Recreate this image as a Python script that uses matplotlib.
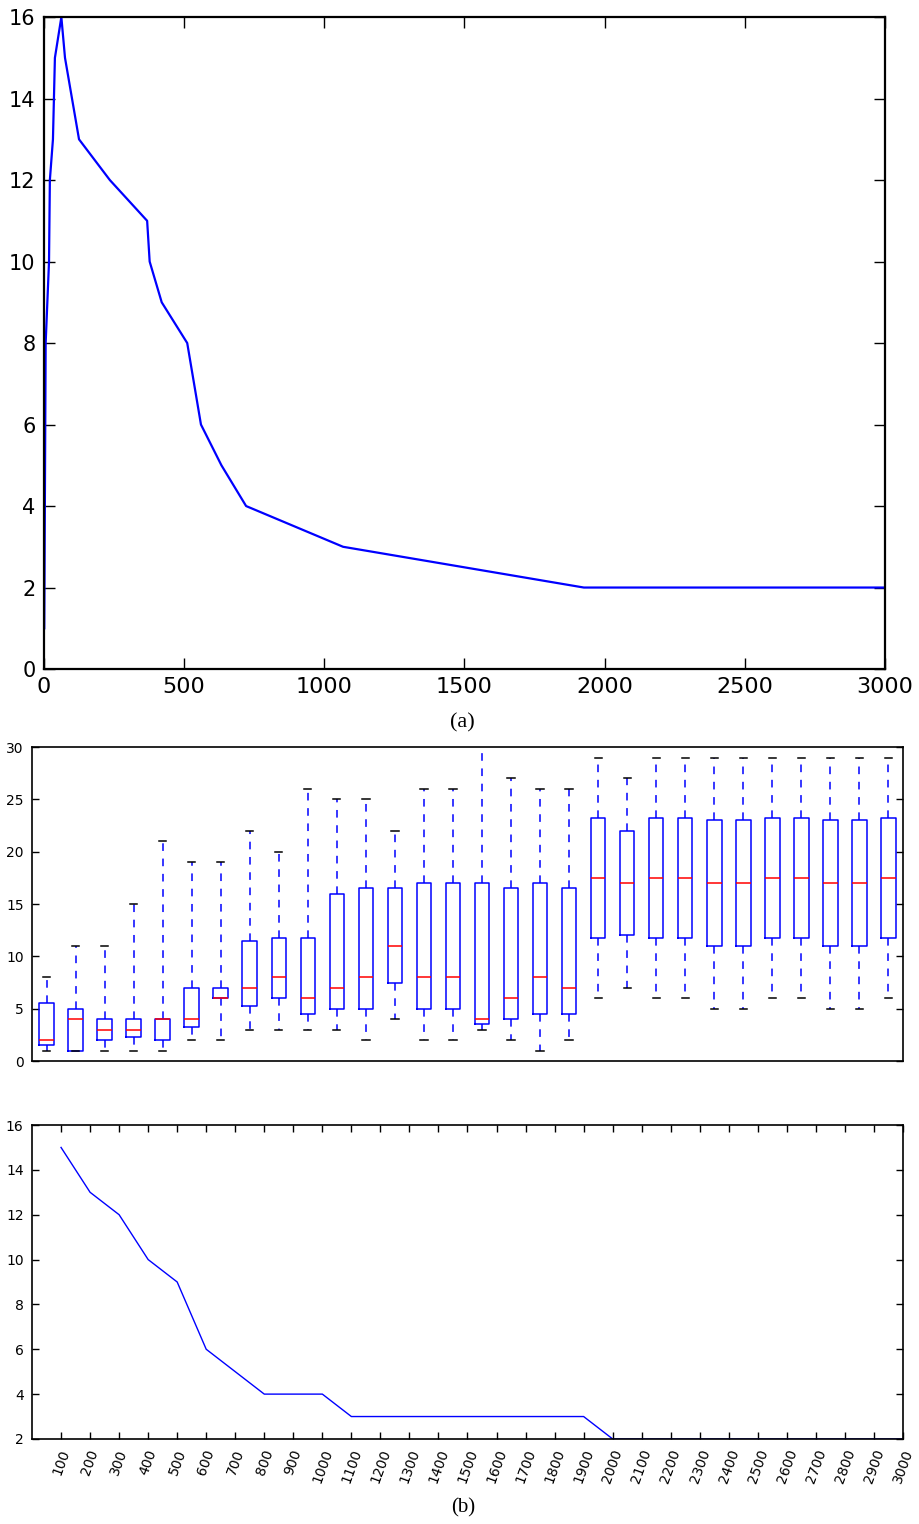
import matplotlib
matplotlib.use("Agg")
import matplotlib.pyplot as plt
from matplotlib import font_manager

# (a) number of clusters vs. threshold
thresh_a = [1, 6, 18, 21, 32, 39, 62, 75, 125, 235, 368, 377, 420, 511, 560, 633, 721, 1067, 1926, 3000]
count_a = [1, 8, 10, 12, 13, 15, 16, 15, 13, 12, 11, 10, 9, 8, 6, 5, 4, 3, 2, 2]

# (b) box statistics per threshold step (100 .. 3000)
whislo = [1, 1, 1, 1, 1, 2, 2, 3, 3, 3, 3, 2, 4, 2, 2, 3, 2, 1, 2, 6,
          7, 6, 6, 5, 5, 6, 6, 5, 5, 6]
q1 = [1.5, 1, 2, 2.25, 2, 3.25, 6, 5.25, 6, 4.5, 5, 5, 7.5, 5, 5, 3.5, 4, 4.5, 4.5, 11.75,
      12, 11.75, 11.75, 11, 11, 11.75, 11.75, 11, 11, 11.75]
med = [2, 4, 3, 3, 4, 4, 6, 7, 8, 6, 7, 8, 11, 8, 8, 4, 6, 8, 7, 17.5,
       17, 17.5, 17.5, 17, 17, 17.5, 17.5, 17, 17, 17.5]
q3 = [5.5, 5, 4, 4, 4, 7, 7, 11.5, 11.75, 11.75, 16, 16.5, 16.5, 17, 17, 17, 16.5, 17, 16.5, 23.25,
      22, 23.25, 23.25, 23, 23, 23.25, 23.25, 23, 23, 23.25]
whishi = [8, 11, 11, 15, 21, 19, 19, 22, 20, 26, 25, 25, 22, 26, 26, 31, 27, 26, 26, 29,
          27, 29, 29, 29, 29, 29, 29, 29, 29, 29]

# (b) line below the boxes
thresh_b = list(range(100, 3100, 100))
count_b = [15, 13, 12, 10, 9, 6, 5, 4, 4, 4, 3, 3, 3, 3, 3, 3, 3, 3, 3, 2,
           2, 2, 2, 2, 2, 2, 2, 2, 2, 2]

installed = {f.name for f in font_manager.fontManager.ttflist}
narrow = "Liberation Sans Narrow" if "Liberation Sans Narrow" in installed else "DejaVu Sans"


def style_axes(ax, lw, ticklen, size):
    for s in ax.spines.values():
        s.set_linewidth(lw)
    ax.tick_params(direction="in", top=True, right=True, length=ticklen,
                   width=1, labelsize=size, pad=6)


fig = plt.figure(figsize=(9.2, 15.24), dpi=100)

ax1 = fig.add_axes([0.0478, 0.561, 0.9141, 0.4278])
ax1.plot(thresh_a, count_a, color="#0000ff", lw=1.6)
ax1.set_xlim(0, 3000)
ax1.set_ylim(0, 16)
ax1.set_xticks(range(0, 3001, 500))
ax1.set_yticks(range(0, 17, 2))
style_axes(ax1, 1.6, 8, 15)
for t in ax1.get_xticklabels():
    t.set_fontfamily(narrow)
    t.set_fontsize(16)
fig.text(0.503, 0.526, "(a)", ha="center", va="center",
         family="Liberation Serif", fontsize=16)

ax2 = fig.add_axes([0.0348, 0.3038, 0.9467, 0.206])
stats = [dict(whislo=whislo[i], q1=q1[i], med=med[i], q3=q3[i], whishi=whishi[i], fliers=[])
         for i in range(len(med))]
ax2.bxp(stats, positions=range(1, len(med) + 1), widths=0.5, showfliers=False,
        boxprops=dict(color="#0000ff", lw=1.1),
        medianprops=dict(color="#ff0000", lw=1.1),
        whiskerprops=dict(color="#0000ff", lw=1.1, ls=(0, (5, 5))),
        capprops=dict(color="black", lw=1.1))
ax2.set_xlim(0.5, len(med) + 0.5)
ax2.set_ylim(0, 30)
ax2.set_yticks(range(0, 31, 5))
ax2.set_xticks([])
style_axes(ax2, 1.2, 5, 10)

ax3 = fig.add_axes([0.0348, 0.0558, 0.9467, 0.206])
ax3.plot(thresh_b, count_b, color="#0000ff", lw=1.0)
ax3.set_xlim(0, 3000)
ax3.set_ylim(2, 16)
ax3.set_xticks(thresh_b)
ax3.set_xticklabels([str(v) for v in thresh_b], rotation=70, fontsize=10.5)
ax3.set_yticks(range(2, 17, 2))
style_axes(ax3, 1.2, 5, 10)
fig.text(0.503, 0.0105, "(b)", ha="center", va="center",
         family="Liberation Serif", fontsize=15)

fig.savefig("out.png", dpi=100, facecolor="white")
